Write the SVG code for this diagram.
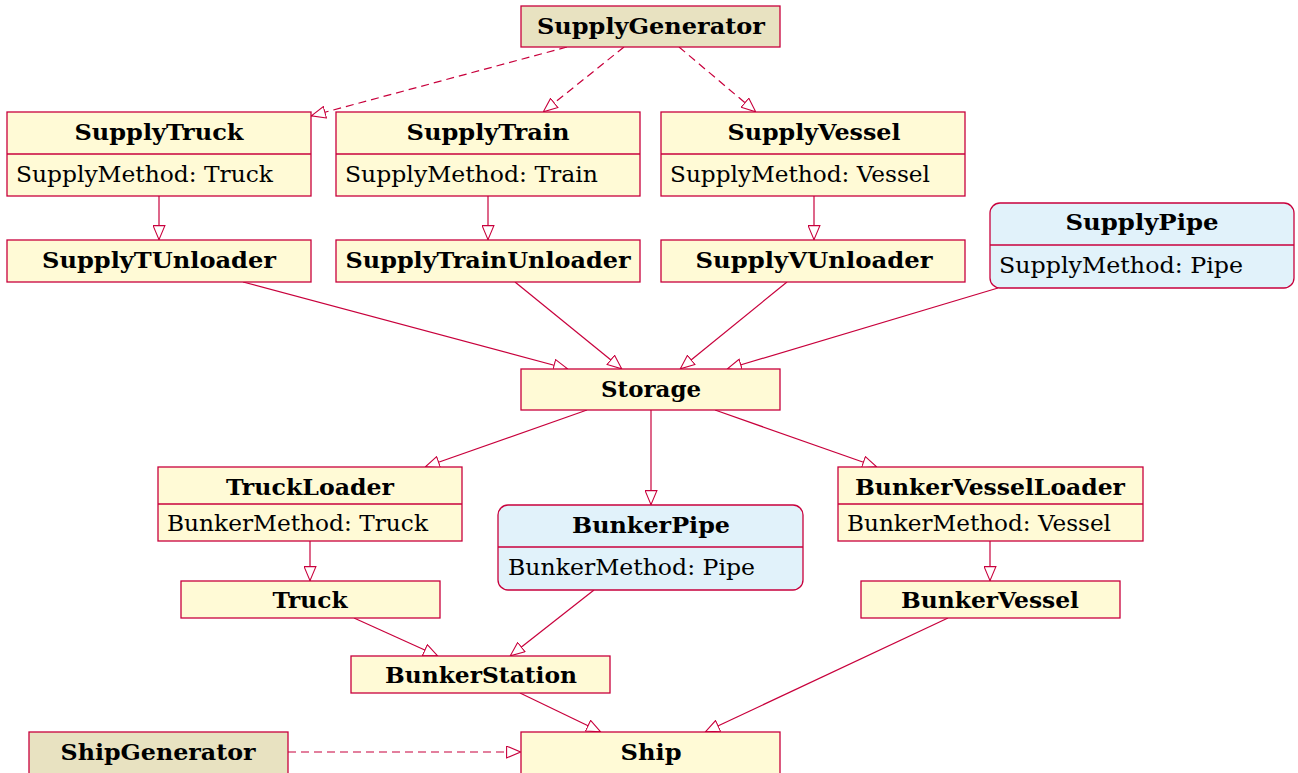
<svg xmlns="http://www.w3.org/2000/svg" width="1298" height="773" viewBox="0 0 1298 773">
  <style>
    .box { stroke: #c8003c; stroke-width: 1.3; }
    .cls { fill: #fffad6; }
    .gen { fill: #e8e2c1; }
    .pipe { fill: #e1f2fa; }
    .sep { stroke: #c8003c; stroke-width: 1.3; }
    .t { font-family: "DejaVu Serif", serif; font-weight: bold; font-size: 22px; fill: #000; text-anchor: middle; }
    .a { font-family: "DejaVu Serif", serif; font-size: 22px; fill: #000; }
    .e { fill: none; stroke: #c8003c; stroke-width: 1.2; marker-end: url(#tri); }
    .d { stroke-dasharray: 8 5; }
  </style>
  <defs>
    <marker id="tri" viewBox="0 0 15 13" refX="15" refY="6.5" markerWidth="15" markerHeight="13" markerUnits="userSpaceOnUse" orient="auto">
      <path d="M0.6,0.6 L14.6,6.5 L0.6,12.4 Z" fill="#fff" stroke="#c8003c" stroke-width="1.1" stroke-dasharray="none"/>
    </marker>
  </defs>

  <rect width="1298" height="773" fill="#fff"/>

  <g id="connectors">
    <!-- generator realisations -->
    <path class="e d" d="M567,47 L311,116"/>
    <path class="e d" d="M624,47 L543,112"/>
    <path class="e d" d="M679,47 L756,112"/>
    <!-- supply to unloaders -->
    <path class="e" d="M159,196 L159,240"/>
    <path class="e" d="M488,196 L488,240"/>
    <path class="e" d="M814,196 L814,240"/>
    <!-- unloaders to storage -->
    <path class="e" d="M243,282 L568,369"/>
    <path class="e" d="M515,282 L622,369"/>
    <path class="e" d="M787,282 L680,369"/>
    <path class="e" d="M998,288 L727,369"/>
    <!-- storage to loaders -->
    <path class="e" d="M587,410 L425,467"/>
    <path class="e" d="M651,410 L651,505"/>
    <path class="e" d="M715,410 L877,467"/>
    <!-- loaders to carriers -->
    <path class="e" d="M310,541 L310,581"/>
    <path class="e" d="M990,541 L990,581"/>
    <!-- to bunker station -->
    <path class="e" d="M354,618 L438,656"/>
    <path class="e" d="M594,590 L510,656"/>
    <!-- to ship -->
    <path class="e" d="M520,693 L601,732"/>
    <path class="e" d="M948,618 L705,732"/>
    <path class="e d" d="M288,752 L521,752"/>
  </g>

  <g id="SupplyGenerator">
    <rect class="box gen" x="521" y="6" width="259" height="41"/>
    <text class="t" x="651" y="34" textLength="228" lengthAdjust="spacingAndGlyphs">SupplyGenerator</text>
  </g>

  <g id="SupplyTruck">
    <rect class="box cls" x="7" y="112" width="304" height="84"/>
    <line class="sep" x1="7" y1="154" x2="311" y2="154"/>
    <text class="t" x="159" y="140" textLength="169" lengthAdjust="spacingAndGlyphs">SupplyTruck</text>
    <text class="a" x="16" y="182" textLength="257" lengthAdjust="spacingAndGlyphs">SupplyMethod: Truck</text>
  </g>

  <g id="SupplyTrain">
    <rect class="box cls" x="336" y="112" width="304" height="84"/>
    <line class="sep" x1="336" y1="154" x2="640" y2="154"/>
    <text class="t" x="488" y="140" textLength="163" lengthAdjust="spacingAndGlyphs">SupplyTrain</text>
    <text class="a" x="345" y="182" textLength="253" lengthAdjust="spacingAndGlyphs">SupplyMethod: Train</text>
  </g>

  <g id="SupplyVessel">
    <rect class="box cls" x="661" y="112" width="304" height="84"/>
    <line class="sep" x1="661" y1="154" x2="965" y2="154"/>
    <text class="t" x="814" y="140" textLength="173" lengthAdjust="spacingAndGlyphs">SupplyVessel</text>
    <text class="a" x="670" y="182" textLength="260" lengthAdjust="spacingAndGlyphs">SupplyMethod: Vessel</text>
  </g>

  <g id="SupplyPipe">
    <rect class="box pipe" x="990" y="203" width="304" height="85" rx="10"/>
    <line class="sep" x1="990" y1="245" x2="1294" y2="245"/>
    <text class="t" x="1142" y="230" textLength="153" lengthAdjust="spacingAndGlyphs">SupplyPipe</text>
    <text class="a" x="999" y="273" textLength="244" lengthAdjust="spacingAndGlyphs">SupplyMethod: Pipe</text>
  </g>

  <g id="SupplyTUnloader">
    <rect class="box cls" x="7" y="240" width="304" height="42"/>
    <text class="t" x="159" y="268" textLength="234" lengthAdjust="spacingAndGlyphs">SupplyTUnloader</text>
  </g>

  <g id="SupplyTrainUnloader">
    <rect class="box cls" x="336" y="240" width="304" height="42"/>
    <text class="t" x="488" y="268" textLength="285" lengthAdjust="spacingAndGlyphs">SupplyTrainUnloader</text>
  </g>

  <g id="SupplyVUnloader">
    <rect class="box cls" x="661" y="240" width="304" height="42"/>
    <text class="t" x="814" y="268" textLength="237" lengthAdjust="spacingAndGlyphs">SupplyVUnloader</text>
  </g>

  <g id="Storage">
    <rect class="box cls" x="521" y="369" width="259" height="41"/>
    <text class="t" x="651" y="397" textLength="100" lengthAdjust="spacingAndGlyphs">Storage</text>
  </g>

  <g id="TruckLoader">
    <rect class="box cls" x="158" y="467" width="304" height="74"/>
    <line class="sep" x1="158" y1="504" x2="462" y2="504"/>
    <text class="t" x="310" y="495" textLength="168" lengthAdjust="spacingAndGlyphs">TruckLoader</text>
    <text class="a" x="167" y="531" textLength="261" lengthAdjust="spacingAndGlyphs">BunkerMethod: Truck</text>
  </g>

  <g id="BunkerPipe">
    <rect class="box pipe" x="498" y="505" width="305" height="85" rx="10"/>
    <line class="sep" x1="498" y1="547" x2="803" y2="547"/>
    <text class="t" x="651" y="533" textLength="158" lengthAdjust="spacingAndGlyphs">BunkerPipe</text>
    <text class="a" x="508" y="575" textLength="247" lengthAdjust="spacingAndGlyphs">BunkerMethod: Pipe</text>
  </g>

  <g id="BunkerVesselLoader">
    <rect class="box cls" x="838" y="467" width="305" height="74"/>
    <line class="sep" x1="838" y1="504" x2="1143" y2="504"/>
    <text class="t" x="990" y="495" textLength="270" lengthAdjust="spacingAndGlyphs">BunkerVesselLoader</text>
    <text class="a" x="847" y="531" textLength="264" lengthAdjust="spacingAndGlyphs">BunkerMethod: Vessel</text>
  </g>

  <g id="Truck">
    <rect class="box cls" x="181" y="581" width="259" height="37"/>
    <text class="t" x="310" y="608" textLength="75" lengthAdjust="spacingAndGlyphs">Truck</text>
  </g>

  <g id="BunkerVessel">
    <rect class="box cls" x="861" y="581" width="259" height="37"/>
    <text class="t" x="990" y="608" textLength="178" lengthAdjust="spacingAndGlyphs">BunkerVessel</text>
  </g>

  <g id="BunkerStation">
    <rect class="box cls" x="351" y="656" width="259" height="37"/>
    <text class="t" x="481" y="683" textLength="192" lengthAdjust="spacingAndGlyphs">BunkerStation</text>
  </g>

  <g id="ShipGenerator">
    <rect class="box gen" x="29" y="732" width="259" height="45"/>
    <text class="t" x="158" y="760" textLength="195" lengthAdjust="spacingAndGlyphs">ShipGenerator</text>
  </g>

  <g id="Ship">
    <rect class="box cls" x="521" y="732" width="259" height="45"/>
    <text class="t" x="651" y="760" textLength="61" lengthAdjust="spacingAndGlyphs">Ship</text>
  </g>
</svg>
